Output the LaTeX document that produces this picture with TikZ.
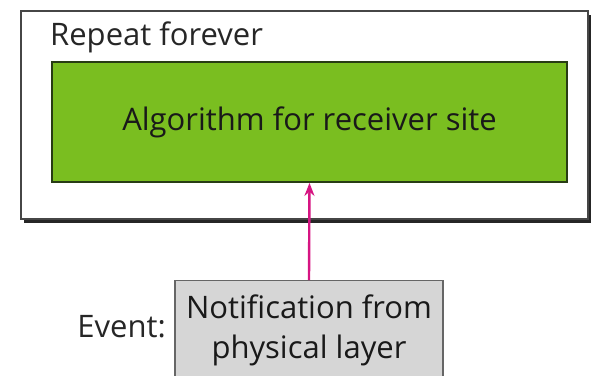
\documentclass[tikz,border=0pt]{standalone}
\usepackage{fontspec}
\setmainfont{Open Sans}
\usepackage{tikz}
\usetikzlibrary{
  arrows.meta,
  positioning,
  shadows
}
\definecolor{loopedge}{RGB}{70,70,70}
\definecolor{algogreen}{RGB}{122,190,32}
\definecolor{algoedge}{RGB}{40,60,20}
\definecolor{eventgray}{RGB}{214,214,214}
\definecolor{signalpink}{RGB}{214,20,130}

\tikzset{
  loopbox/.style={draw=loopedge, line width=1.6pt, fill=white,
    drop shadow={shadow xshift=3pt, shadow yshift=-4pt, fill=black!85, opacity=1}},
  algobox/.style={draw=algoedge, line width=1.8pt, fill=algogreen,
    font=\fontsize{31}{37}\selectfont, text=black!90},
  eventbox/.style={draw=black!60, line width=1.2pt, fill=eventgray,
    font=\fontsize{31}{40}\selectfont, align=center, text=black!90},
  plaintext/.style={font=\fontsize{31}{37}\selectfont, text=black!85, inner sep=0pt},
  signal/.style={-{Stealth[length=13pt, width=10pt]}, line width=2.4pt, color=signalpink}
}

\begin{document}
\begin{tikzpicture}[x=1pt, y=-1pt]
  \useasboundingbox (0,0) rectangle (594,375);

  % Outer loop
  \node[loopbox, anchor=north west, minimum width=567pt, minimum height=208pt,
    inner sep=0pt] (loop) at (20,10) {};
  \node[plaintext, anchor=base west] (looplabel) at (50,45) {Repeat forever};

  % Algorithm block
  \node[algobox, minimum width=515pt, minimum height=120pt] (algo) at (309.5,122)
    {Algorithm for receiver site};

  % Event block
  \node[eventbox, anchor=north, minimum width=268pt, minimum height=99pt,
    inner sep=2pt] (notify) at (309,280) {Notification from\\physical layer};
  \node[plaintext, anchor=base east] (eventlabel) at (166,337) {Event:};

  % Signal
  \draw[signal] (notify.north) -- (algo.south);
\end{tikzpicture}
\end{document}
